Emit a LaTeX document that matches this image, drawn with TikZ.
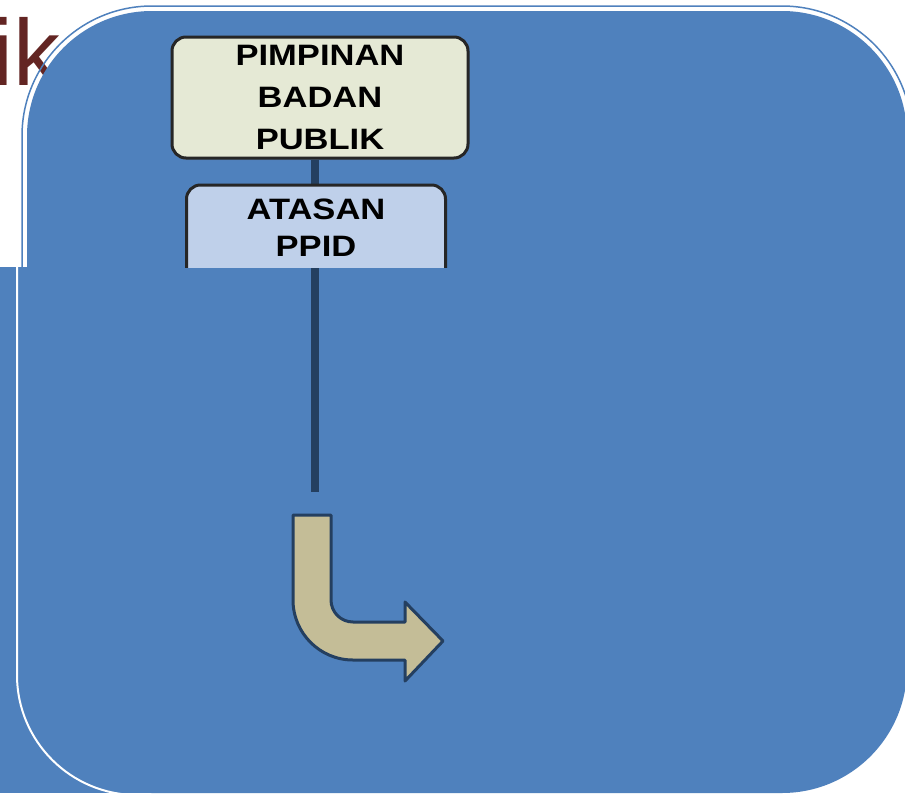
\documentclass[tikz,border=0pt]{standalone}
\usepackage{fontspec}
\setmainfont{Liberation Sans}
\newfontfamily\kotakfont[FakeStretch=1.17]{Liberation Sans}
\usetikzlibrary{positioning,shadows}
\definecolor{latar}{HTML}{4F81BD}
\definecolor{garis}{HTML}{243F60}
\definecolor{krem}{HTML}{E5E9D5}
\definecolor{birumuda}{HTML}{BFD0EA}
\definecolor{coklat}{HTML}{C4BD97}
\definecolor{merah}{HTML}{632523}

\begin{document}
\begin{tikzpicture}[x=1pt,y=-1pt,node distance=24pt]
  \tikzstyle{kotak}=[rectangle,rounded corners=14pt,line width=3pt,draw=black!85,
              align=center,font=\kotakfont\bfseries\fontsize{29.5}{42}\selectfont,
              drop shadow={opacity=0.25,shadow xshift=0pt,shadow yshift=-2pt}]
  \tikzstyle{penghubung}=[draw=garis,line width=8pt]
  \tikzstyle{panah}=[fill=coklat,draw=garis,line width=3pt,line join=round]
  \useasboundingbox (0,0) rectangle (905,795);
  \fill[white] (0,0) rectangle (905,795);
    \node [text=merah,font=\fontsize{94}{94}\selectfont,anchor=base west] (judul) at (-11,85) {ik};
    % bingkai atas
    \begin{scope}
      \clip (0,0) rectangle (905,267);
      \draw [latar,line width=1.5pt,rounded corners=130pt] (22,6) rectangle (912,798);
    \end{scope}
    \fill [latar,rounded corners=125pt] (27,11) rectangle (907,793);
    \fill [latar] (0,267) rectangle (650,793);
    \draw [white,line width=2pt] (17,267) -- (17,675) arc [start angle=180,end angle=90,radius=120];
    % struktur
    \node [kotak,fill=krem,minimum width=296pt,minimum height=121pt] (pimpinan) at (320,97.5)
      {PIMPINAN\\BADAN\\PUBLIK};
    \coordinate (ujung) at (315,492);
    \draw [penghubung] (pimpinan.south -| ujung) -- (ujung);
    \begin{scope}
      \clip (0,0) rectangle (905,267);
      \node [kotak,fill=birumuda,minimum width=259pt,minimum height=120pt,text depth=34pt,
        font=\kotakfont\bfseries\fontsize{29.5}{37}\selectfont]
        (atasan) [below=24pt of pimpinan,xshift=-4pt] {ATASAN\\PPID};
    \end{scope}
    \draw [panah] (293,515) -- (331,515) -- (331,600) arc [start angle=180,end angle=90,radius=22]
      -- (405,622) -- (405,602) -- (443,641) -- (405,681) -- (405,660) -- (353,660)
      arc [start angle=90,end angle=180,radius=60] -- cycle;
\end{tikzpicture}
\end{document}
